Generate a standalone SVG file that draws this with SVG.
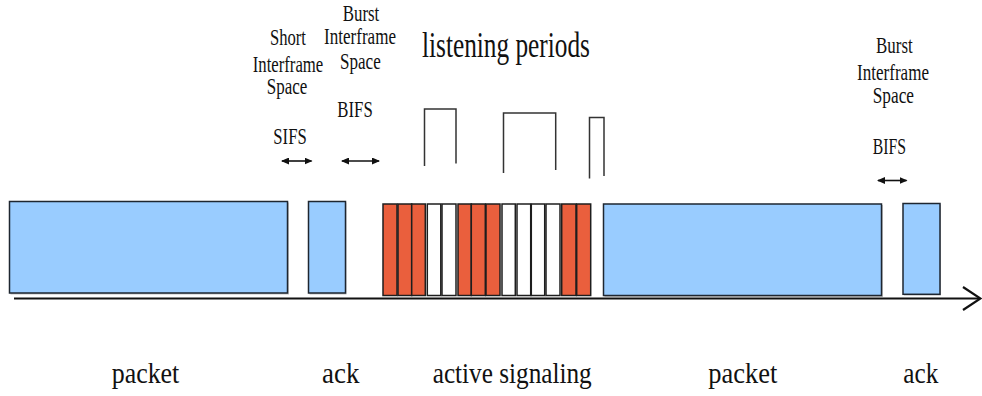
<svg xmlns="http://www.w3.org/2000/svg" width="982" height="396" viewBox="0 0 982 396">
<defs>
<marker id="ah" markerWidth="8" markerHeight="7" refX="7" refY="3.5" orient="auto-start-reverse" markerUnits="userSpaceOnUse">
<path d="M0,0 L8,3.5 L0,7 Z" fill="#111"/>
</marker>
<style>
text{font-family:"Liberation Serif","Times New Roman",serif;fill:#111}
.s{font-size:23px}
.b{font-size:30px}
.t{font-size:35px}
.blue{fill:#99CCFF;stroke:#1e2630;stroke-width:1.5}
.red{fill:#EA5F3D;stroke:#1e1e1e;stroke-width:1.5}
.white{fill:#ffffff;stroke:#1e1e1e;stroke-width:1.5}
.sh{fill:#c4c4c4}
.brk{fill:none;stroke:#333;stroke-width:1.5}
.dim{stroke:#111;stroke-width:1.6;marker-start:url(#ah);marker-end:url(#ah)}
</style>
</defs>
<rect width="982" height="396" fill="#fff"/>

<g id="packet1">
<rect class="sh" x="10.5" y="202.5" width="278.5" height="92"/>
<rect class="blue" x="9.5" y="201.5" width="278" height="91.5"/>
</g>
<g id="ack1">
<rect class="sh" x="309.5" y="202.5" width="37" height="92"/>
<rect class="blue" x="308.5" y="201.5" width="37" height="91.5"/>
</g>

<g id="signaling">
<rect class="red" x="383" y="204" width="14" height="91.5"/>
<rect class="red" x="398" y="204" width="13.7" height="91.5"/>
<rect class="red" x="411.7" y="204" width="13.6" height="91.5"/>
<rect class="white" x="427.3" y="204" width="13.5" height="91.5"/>
<rect class="white" x="442" y="204" width="14" height="91.5"/>
<rect class="red" x="458" y="204" width="13.3" height="91.5"/>
<rect class="red" x="471.3" y="204" width="14" height="91.5"/>
<rect class="red" x="486" y="204" width="14" height="91.5"/>
<rect class="white" x="502" y="204" width="13.3" height="91.5"/>
<rect class="white" x="517" y="204" width="13.7" height="91.5"/>
<rect class="white" x="531.3" y="204" width="13.4" height="91.5"/>
<rect class="white" x="546" y="204" width="14" height="91.5"/>
<rect class="red" x="561.7" y="204" width="14.3" height="91.5"/>
<rect class="red" x="576.7" y="204" width="14" height="91.5"/>
</g>

<g id="packet2">
<rect class="sh" x="604.5" y="205" width="278.5" height="92"/>
<rect class="blue" x="603.5" y="204" width="278" height="91.5"/>
</g>
<g id="ack2">
<rect class="sh" x="904" y="204.5" width="37" height="91"/>
<rect class="blue" x="903" y="203.5" width="37" height="90.8"/>
</g>

<g id="listening">
<text class="t" transform="matrix(0.73 0 0 1 422 57)" x="0" y="0" textLength="230" lengthAdjust="spacingAndGlyphs">listening periods</text>
<path class="brk" d="M424.5,166 V109 H456 V163.5"/>
<path class="brk" d="M503.5,173 V113 H555.7 V170"/>
<path class="brk" d="M589.5,178.5 V117.5 H604 V176"/>
</g>

<g id="sifs">
<text class="s" transform="matrix(0.75 0 0 1 270 45)" textLength="48" lengthAdjust="spacingAndGlyphs">Short</text>
<text class="s" transform="matrix(0.75 0 0 1 252.7 71.7)" textLength="94.1" lengthAdjust="spacingAndGlyphs">Interframe</text>
<text class="s" transform="matrix(0.75 0 0 1 266.7 94)" textLength="54.1" lengthAdjust="spacingAndGlyphs">Space</text>
<text class="s" transform="matrix(0.75 0 0 1 273.3 144)" textLength="44.5" lengthAdjust="spacingAndGlyphs">SIFS</text>
</g>

<g id="bifs1">
<text class="s" transform="matrix(0.75 0 0 1 342.7 20.5)" textLength="48.8" lengthAdjust="spacingAndGlyphs">Burst</text>
<text class="s" transform="matrix(0.75 0 0 1 324 44.3)" textLength="96" lengthAdjust="spacingAndGlyphs">Interframe</text>
<text class="s" transform="matrix(0.75 0 0 1 340 68.5)" textLength="54.3" lengthAdjust="spacingAndGlyphs">Space</text>
<text class="s" transform="matrix(0.75 0 0 1 337.3 117.3)" textLength="47.2" lengthAdjust="spacingAndGlyphs">BIFS</text>
</g>

<g id="bifs2">
<text class="s" transform="matrix(0.75 0 0 1 876 53.3)" textLength="48.9" lengthAdjust="spacingAndGlyphs">Burst</text>
<text class="s" transform="matrix(0.75 0 0 1 857 80)" textLength="96" lengthAdjust="spacingAndGlyphs">Interframe</text>
<text class="s" transform="matrix(0.75 0 0 1 872.7 102.5)" textLength="55.1" lengthAdjust="spacingAndGlyphs">Space</text>
<text class="s" transform="matrix(0.75 0 0 1 872.7 154)" textLength="44.4" lengthAdjust="spacingAndGlyphs">BIFS</text>
</g>

<g id="labels">
<text class="b" transform="matrix(0.86 0 0 1 111.7 383)" textLength="78.6" lengthAdjust="spacingAndGlyphs">packet</text>
<text class="b" transform="matrix(0.86 0 0 1 322 383)" textLength="43.4" lengthAdjust="spacingAndGlyphs">ack</text>
<text class="b" transform="matrix(0.86 0 0 1 432.7 383)" textLength="184.9" lengthAdjust="spacingAndGlyphs">active signaling</text>
<text class="b" transform="matrix(0.86 0 0 1 708.3 383)" textLength="80.2" lengthAdjust="spacingAndGlyphs">packet</text>
<text class="b" transform="matrix(0.86 0 0 1 903.3 383)" textLength="40.7" lengthAdjust="spacingAndGlyphs">ack</text>
</g>

<g id="connectors">
<line class="dim" x1="282" y1="161" x2="311.5" y2="161"/>
<line class="dim" x1="342" y1="161" x2="379" y2="161"/>
<line class="dim" x1="878" y1="180.5" x2="906.5" y2="180.5"/>
<line x1="14" y1="298.5" x2="979" y2="298.5" stroke="#111" stroke-width="2"/>
<path d="M963,287 L980.5,298.5 L963,310" fill="none" stroke="#111" stroke-width="2.2"/>
</g>
</svg>
